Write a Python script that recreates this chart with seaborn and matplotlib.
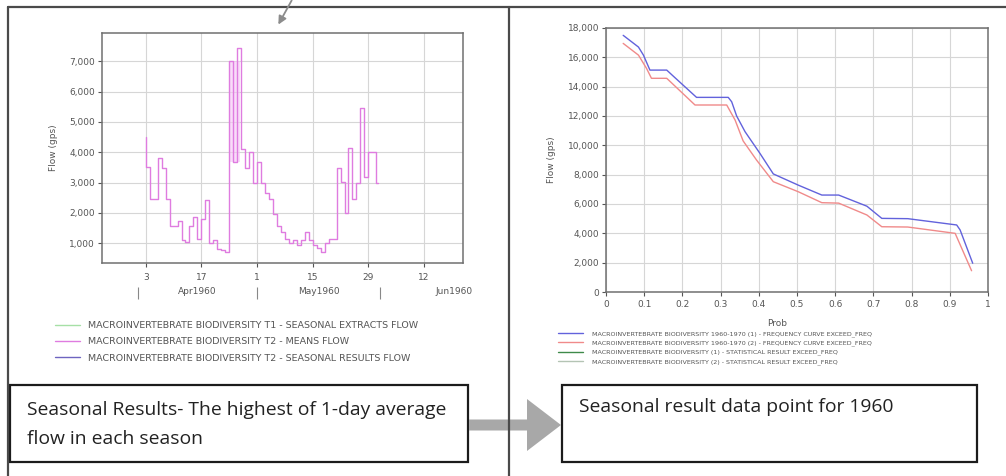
import matplotlib
matplotlib.use("Agg")
import matplotlib.pyplot as plt
from matplotlib.lines import Line2D
from matplotlib.patches import Rectangle, FancyArrow
from matplotlib.ticker import StrMethodFormatter
import pandas as pd
import seaborn as sns

# ---------------- data ----------------
# Left chart: daily mean flow, spring 1960 (day 0 = 1 April)
mean_days = [2, 2, 3, 4, 5, 6, 7, 8, 9, 10, 11, 12, 13, 14, 15, 16, 17, 18, 19, 20, 21, 22,
             23, 24, 25, 26, 27, 28, 29, 30, 31, 32, 33, 34, 35, 36, 37, 38, 39, 40, 41, 42,
             43, 44, 45, 46, 47, 48, 49, 50, 51, 52, 53, 54, 55, 56, 57, 58, 59, 60, 60.5]
mean_flow = [4500, 3500, 2470, 2470, 3800, 3470, 2470, 1570, 1570, 1730, 1100, 1030, 1570,
             1870, 1130, 1800, 2430, 1000, 1100, 800, 770, 700,
             7000, 3670, 7430, 4100, 3470, 4000, 3000, 3670, 3000, 2670, 2470, 1970, 1570,
             1370, 1130, 1000, 1100, 950, 1100, 1370,
             1100, 930, 830, 700, 1000, 1130, 1130, 3470, 3030, 2000, 4130, 2470, 3000, 5470,
             3170, 4000, 4000, 3000, 3000]
peak_days = [23, 25.75]
peak_low = [3670, 3670]
peak_high = [7000, 7000]

date_tick_days = [2, 16, 30, 44, 58, 72]
date_tick_labels = ["3", "17", "1", "15", "29", "12"]
month_start_days = [0, 30, 61]
month_label_days = [15, 45.5, 79.5]
month_labels = ["Apr1960", "May1960", "Jun1960"]

left_legend_labels = [
    "MACROINVERTEBRATE BIODIVERSITY T1 - SEASONAL EXTRACTS FLOW",
    "MACROINVERTEBRATE BIODIVERSITY T2 - MEANS FLOW",
    "MACROINVERTEBRATE BIODIVERSITY T2 - SEASONAL RESULTS FLOW",
]

# Right chart: flow-duration curves (exceedance probability vs flow)
prob_curve1 = [0.045, 0.085, 0.098, 0.115, 0.159, 0.176, 0.237, 0.320, 0.329, 0.342, 0.364,
               0.403, 0.438, 0.503, 0.565, 0.609, 0.683, 0.722, 0.790, 0.918, 0.927, 0.960]
flow_curve1 = [17500, 16700, 16150, 15130, 15130, 14720, 13270, 13270, 12970, 12000, 10930,
               9450, 8050, 7290, 6610, 6610, 5850, 5020, 5000, 4570, 4230, 1960]
prob_curve2 = [0.045, 0.085, 0.106, 0.119, 0.159, 0.233, 0.316, 0.338, 0.359, 0.394, 0.438,
               0.503, 0.565, 0.609, 0.683, 0.722, 0.790, 0.914, 0.957]
flow_curve2 = [16950, 16150, 15250, 14570, 14570, 12750, 12750, 11720, 10300, 9000, 7520,
               6840, 6090, 6060, 5250, 4450, 4430, 4000, 1450]

right_legend_labels = [
    "MACROINVERTEBRATE BIODIVERSITY 1960-1970 (1) - FREQUENCY CURVE EXCEED_FREQ",
    "MACROINVERTEBRATE BIODIVERSITY 1960-1970 (2) - FREQUENCY CURVE EXCEED_FREQ",
    "MACROINVERTEBRATE BIODIVERSITY (1) - STATISTICAL RESULT EXCEED_FREQ",
    "MACROINVERTEBRATE BIODIVERSITY (2) - STATISTICAL RESULT EXCEED_FREQ",
]
right_ticks_y = list(range(0, 18001, 2000))
right_ticks_x = [i / 10 for i in range(11)]

box_left_lines = ["Seasonal Results- The highest of 1-day average", "flow in each season"]
box_right_text = "Seasonal result data point for 1960"

# ---------------- styling ----------------
sns.set_theme(style="white")
plt.rcParams["font.family"] = ["DejaVu Sans"]

W, H = 1006, 476
fig = plt.figure(figsize=(W / 100, H / 100), dpi=100)
fig.patch.set_facecolor("white")

MAGENTA = "#df7ce0"
BLUE = "#6262dc"
SALMON = "#f08a8a"
TICK_GREY = "#555555"
TICK_SIZE = 6.5


def px_axes(x0, y0, x1, y1):
    return fig.add_axes([x0 / W, 1 - y1 / H, (x1 - x0) / W, (y1 - y0) / H])


def style_axes(ax):
    ax.set_facecolor("white")
    for s in ax.spines.values():
        s.set_color("#707070")
        s.set_linewidth(1.1)
    ax.grid(True, color="#d6d6d6", lw=0.8)
    ax.set_axisbelow(True)
    ax.tick_params(labelsize=TICK_SIZE, colors=TICK_GREY, length=3, width=0.8, pad=2,
                   bottom=True, left=True)


# ---------------- left chart ----------------
axL = px_axes(102, 33, 463, 263)
style_axes(axL)
axL.fill_between(peak_days, peak_low, peak_high, color="#f6c4f6", alpha=0.6, lw=0)
sns.lineplot(x=mean_days, y=mean_flow, ax=axL, color=MAGENTA, lw=1.0,
             drawstyle="steps-post", estimator=None, sort=False)
axL.set_xlim(-9, 81.8)
axL.set_ylim(350, 7930)
axL.set_yticks(range(1000, 7001, 1000))
axL.yaxis.set_major_formatter(StrMethodFormatter("{x:,.0f}"))
axL.set_xticks(date_tick_days)
axL.set_xticklabels(date_tick_labels)
axL.tick_params(axis="x", pad=4)
axL.set_xlabel("")
axL.set_ylabel("Flow (gps)", fontsize=TICK_SIZE, color=TICK_GREY)
axL.yaxis.set_label_coords(-(102 - 58) / 361, 0.5)

xtr = axL.get_xaxis_transform()
axL.vlines(month_start_days, -0.105, -0.155, transform=xtr, colors="#888888",
           lw=0.8, clip_on=False)
for d, lab in zip(month_label_days, month_labels):
    axL.text(d, -(292 - 263) / 230, lab, transform=xtr, ha="center", va="center",
             fontsize=TICK_SIZE, color=TICK_GREY, clip_on=False)

left_colors = ["#a6e0a6", MAGENTA, "#6e64c0"]
left_handles = [Line2D([], [], color=c, lw=1.0) for c in left_colors]
axL.legend(left_handles, left_legend_labels, loc="upper left", frameon=False,
           bbox_to_anchor=(55 / W, 1 - 321 / H), bbox_transform=fig.transFigure,
           fontsize=6.8, labelcolor="#555555", handlelength=2.65, handletextpad=0.85,
           labelspacing=0.77, borderpad=0, borderaxespad=0)

# ---------------- right chart ----------------
axR = px_axes(606, 28, 988, 292)
style_axes(axR)
curves = pd.DataFrame({
    "prob": prob_curve1 + prob_curve2,
    "flow": flow_curve1 + flow_curve2,
    "series": [right_legend_labels[0]] * len(prob_curve1) + [right_legend_labels[1]] * len(prob_curve2),
})
sns.lineplot(data=curves, x="prob", y="flow", hue="series", ax=axR,
             palette=[BLUE, SALMON], lw=1.0, estimator=None, sort=False, legend=False)
axR.set_xlim(0, 1)
axR.set_ylim(0, 18000)
axR.set_yticks(right_ticks_y)
axR.yaxis.set_major_formatter(StrMethodFormatter("{x:,.0f}"))
axR.set_xticks(right_ticks_x)
axR.set_xticklabels(["0"] + [f"{v:.1f}" for v in right_ticks_x[1:-1]] + ["1"])
axR.tick_params(axis="x", pad=3)
axR.set_xlabel("Prob", fontsize=TICK_SIZE, color=TICK_GREY)
axR.xaxis.set_label_coords((777 - 606) / 382, -(319 - 292) / 264)
axR.set_ylabel("Flow (gps)", fontsize=TICK_SIZE, color=TICK_GREY)
axR.yaxis.set_label_coords(-(606 - 556) / 382, 0.5)

right_colors = [BLUE, SALMON, "#3f8a4a", "#b4c4b4"]
right_handles = [Line2D([], [], color=c, lw=1.0) for c in right_colors]
axR.legend(right_handles, right_legend_labels, loc="upper left", frameon=False,
           bbox_to_anchor=(558 / W, 1 - 331 / H), bbox_transform=fig.transFigure,
           fontsize=4.6, labelcolor="#555555", handlelength=3.9, handletextpad=1.4,
           labelspacing=0.47, borderpad=0, borderaxespad=0)

# ---------------- overlay: panel frames, call-out boxes, arrows ----------------
ov = fig.add_axes([0, 0, 1, 1], zorder=10)
ov.set_xlim(0, W)
ov.set_ylim(H, 0)
ov.axis("off")
ov.patch.set_alpha(0)

frame_kw = dict(color="#4a4a4a", lw=1.6)
ov.plot([8, W], [7, 7], **frame_kw)
ov.plot([8, 8], [7, H], **frame_kw)
ov.plot([509, 509], [7, H], **frame_kw)

ov.add_patch(Rectangle((10, 385), 458, 77, fill=False, ec="#1c1c1c", lw=1.6))
ov.add_patch(Rectangle((562, 385), 415, 77, fill=False, ec="#1c1c1c", lw=1.6))

box_font = dict(family=["Open Sans", "DejaVu Sans"], fontsize=13.9, color="#222222")
ov.text(27, 410, box_left_lines[0], va="center", ha="left", **box_font)
ov.text(27, 439, box_left_lines[1], va="center", ha="left", **box_font)
ov.text(579, 407, box_right_text, va="center", ha="left", **box_font)

ov.add_patch(FancyArrow(469, 425, 92, 0, width=11, head_width=52, head_length=34,
                        length_includes_head=True, color="#a8a8a8", lw=0))
ov.annotate("", xy=(277, 27), xytext=(293, -2),
            arrowprops=dict(arrowstyle="-|>", color="#8c8c8c", lw=1.3, mutation_scale=12))

fig.savefig("out.png", dpi=100, facecolor="white")
